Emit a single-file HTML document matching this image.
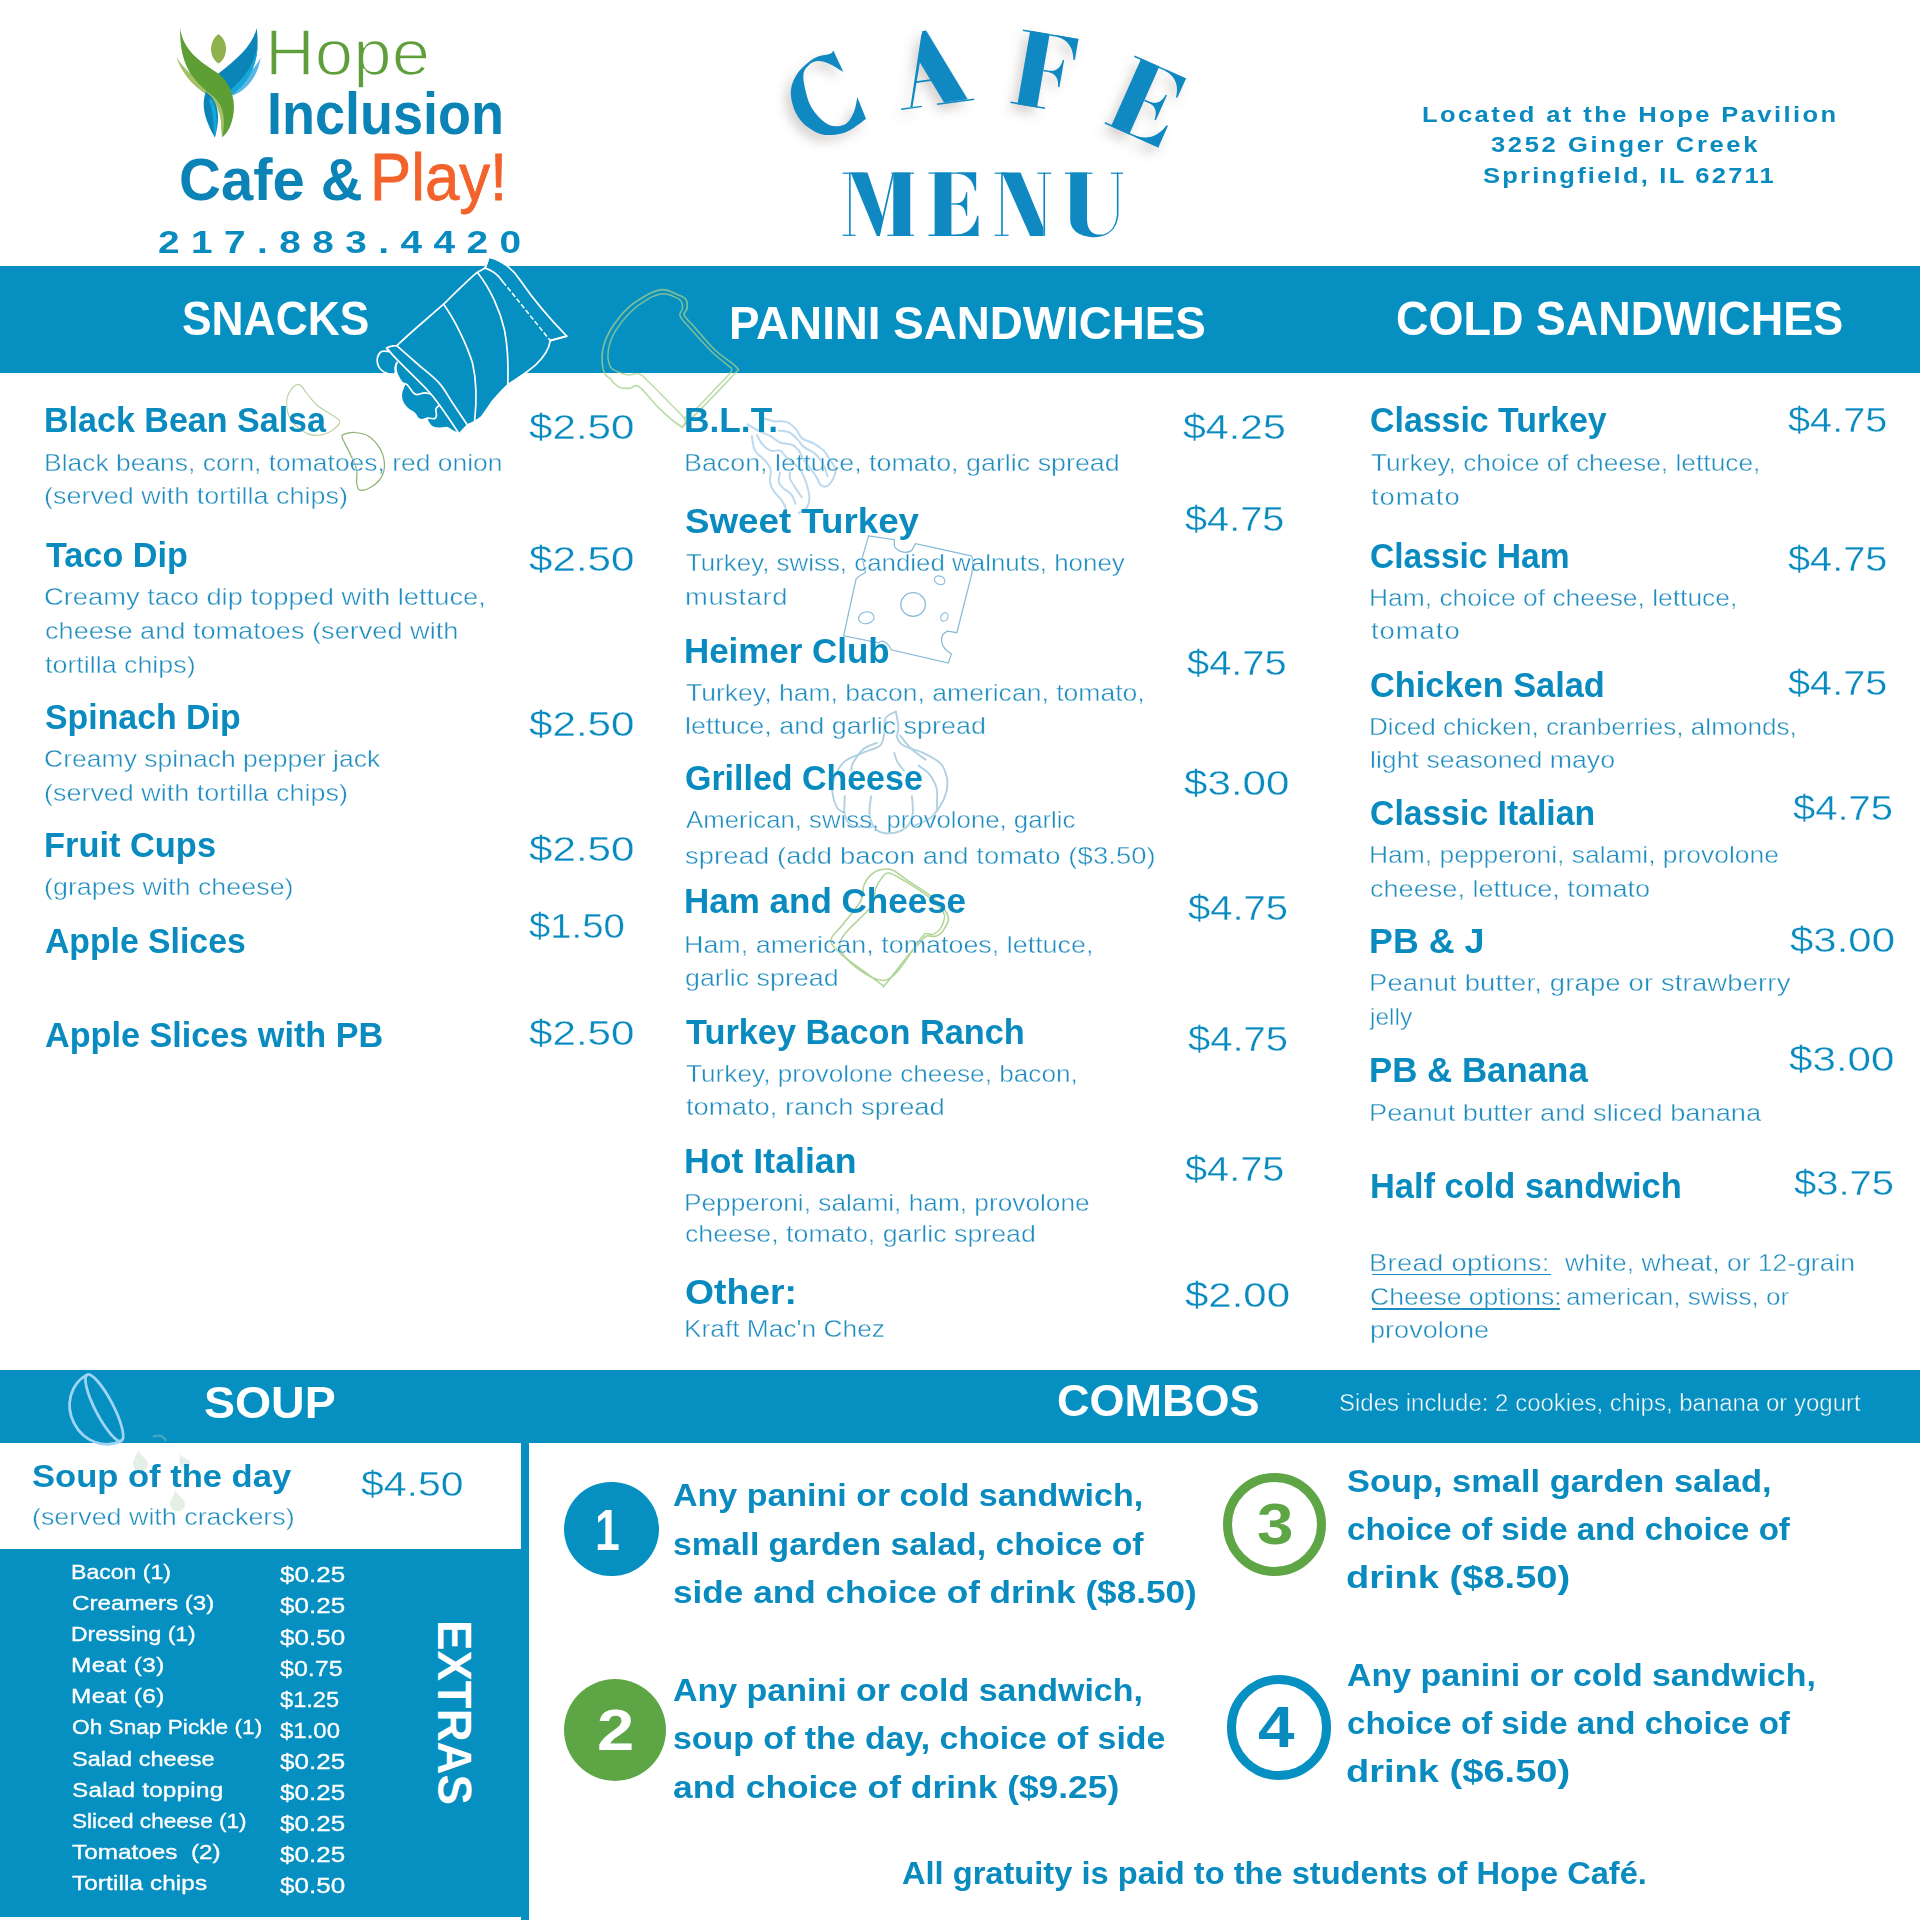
<!DOCTYPE html>
<html lang="en">
<head>
<meta charset="utf-8">
<title>Hope Inclusion Cafe &amp; Play - Cafe Menu</title>
<style>
html,body{margin:0;padding:0;background:#fff;}
body{width:1920px;height:1920px;position:relative;overflow:hidden;font-family:"Liberation Sans",sans-serif;}
.t{position:absolute;white-space:nowrap;line-height:1;transform-origin:0 50%;}
.ul{position:absolute;height:1.6px;}
.blk{position:absolute;background:#068fc1;}
.wht{position:absolute;background:#fff;}
svg{position:absolute;left:0;top:0;overflow:visible;}
</style>
</head>
<body>
<!-- blue bands -->
<div class="blk" style="left:0;top:266px;width:1920px;height:107px;"></div>
<div class="blk" style="left:0;top:1370px;width:1920px;height:73px;"></div>
<div class="blk" style="left:0;top:1443px;width:529px;height:477px;"></div>
<div class="wht" style="left:0;top:1443px;width:521px;height:106px;"></div>
<div class="wht" style="left:0;top:1917px;width:521px;height:3px;"></div>
<!-- combo number badges -->
<div style="position:absolute;left:564px;top:1481.9px;width:94.6px;height:94.6px;border-radius:50%;background:#068fc1;"></div>
<div style="position:absolute;left:563.8px;top:1678.5px;width:102.4px;height:102.4px;border-radius:50%;background:#5ea645;"></div>
<div style="position:absolute;left:1223.4px;top:1473.2px;width:102.8px;height:102.8px;border-radius:50%;box-sizing:border-box;border:9.6px solid #5ea645;"></div>
<div style="position:absolute;left:1226.8px;top:1675.4px;width:104.7px;height:104.7px;border-radius:50%;box-sizing:border-box;border:9.6px solid #068fc1;"></div>
<svg width="1920" height="1920" viewBox="0 0 1920 1920">
<path d="M663.3,289.6 C668.1,289.6 672.9,292.6 676.7,294.2 C680.4,295.8 684.1,296.8 685.8,299.2 C687.6,301.5 687.4,305.7 687.1,308.3 C686.8,311.0 683.0,311.9 684.2,315.0 C685.3,318.1 689.0,320.8 694.2,326.7 C699.3,332.5 707.9,343.2 715.0,350.0 C722.1,356.8 733.6,363.3 736.7,367.5 C739.7,371.7 739.7,367.6 733.3,375.0 C726.9,382.4 706.5,403.3 698.3,411.7 C690.1,420.0 687.2,422.6 684.2,425.0 C681.1,427.4 684.2,428.6 680.0,425.8 C675.8,423.1 666.0,414.9 659.2,408.3 C652.4,401.8 644.0,390.0 639.2,386.7 C634.3,383.3 633.2,388.2 630.0,388.3 C626.8,388.5 622.8,388.5 620.0,387.5 C617.2,386.5 614.9,383.9 613.3,382.5 C611.8,381.1 612.2,380.6 610.8,379.2 C609.4,377.8 606.5,376.9 605.0,374.2 C603.5,371.4 602.4,367.1 602.1,362.5 C601.8,357.9 601.9,352.2 603.3,346.7 C604.8,341.1 606.8,335.6 610.8,329.2 C614.9,322.8 621.2,314.2 627.5,308.3 C633.8,302.5 642.4,297.3 648.3,294.2 C654.3,291.0 658.6,289.6 663.3,289.6 Z" fill="none" stroke="#a4cf8c" stroke-opacity="0.75" stroke-width="1.7"/>
<path d="M607.9,358.3 C608.1,356.5 607.6,351.9 608.8,347.5 C609.9,343.1 611.5,337.5 615.0,331.7 C618.5,325.8 624.4,318.0 630.0,312.5 C635.6,307.0 642.8,301.9 648.3,298.8 C653.9,295.6 658.9,294.0 663.3,293.8 C667.8,293.5 672.0,295.8 675.0,297.1 C678.0,298.3 680.0,299.4 681.2,301.2 C682.5,303.1 682.7,305.9 682.5,308.3 C682.3,310.8 678.8,312.5 680.0,315.8 C681.2,319.2 684.7,322.4 690.0,328.3 C695.3,334.3 704.7,345.0 711.7,351.7 C718.6,358.3 728.3,365.6 731.7,368.3" fill="none" stroke="#a4cf8c" stroke-opacity="0.75" stroke-width="1.5"/>
<path d="M607.9,358.3 C608.4,359.9 609.2,365.3 610.8,367.5 C612.4,369.7 614.6,370.4 617.5,371.7 C620.4,372.9 624.7,374.7 628.3,375.0 C631.9,375.3 635.6,372.4 639.2,373.8 C642.8,375.1 645.7,379.2 650.0,383.3 C654.3,387.4 659.3,392.5 665.0,398.3 C670.7,404.2 681.0,413.9 684.2,418.3 C687.4,422.8 684.2,423.9 684.2,425.0" fill="none" stroke="#a4cf8c" stroke-opacity="0.75" stroke-width="1.5"/>
<path d="M731.7,368.3 C731.4,369.2 733.1,369.6 730.0,373.3 C726.9,377.1 718.9,385.0 713.3,390.8 C707.8,396.7 701.5,403.8 696.7,408.3 C691.8,412.9 686.2,416.7 684.2,418.3" fill="none" stroke="#a4cf8c" stroke-opacity="0.75" stroke-width="1.5"/>
<path d="M297.1,384.5 C295.2,385.2 292.1,387.6 290.3,390.6 C288.6,393.5 286.6,397.3 286.6,402.1 C286.6,406.8 287.2,413.9 290.3,419.0 C293.4,424.1 300.7,429.8 305.2,432.5 C309.7,435.3 313.1,435.5 317.4,435.3 C321.7,435.0 327.2,433.5 330.9,431.2 C334.7,428.9 339.7,424.5 339.7,421.7 C339.7,418.9 334.7,417.0 330.9,414.3 C327.2,411.6 321.3,408.9 317.4,405.5 C313.4,402.1 309.8,397.1 307.2,394.0 C304.6,390.8 303.5,388.1 301.8,386.5 C300.1,384.9 299.0,383.8 297.1,384.5 Z" fill="none" stroke="#b9d3a0" stroke-width="1.1"/>
<path d="M343.1,434.6 C345.2,433.8 350.5,432.3 354.6,432.5 C358.8,432.8 364.0,433.3 368.2,435.9 C372.3,438.5 377.0,443.6 379.7,448.1 C382.4,452.6 384.1,458.3 384.4,463.0 C384.8,467.8 383.9,472.6 381.7,476.6 C379.6,480.5 375.2,484.5 371.6,486.7 C367.9,489.0 362.5,490.7 360.0,490.1 C357.6,489.5 357.2,486.7 356.7,483.3 C356.1,479.9 357.6,474.3 356.7,469.8 C355.8,465.3 353.3,460.8 351.2,456.2 C349.2,451.7 346.0,445.9 344.5,442.7 C343.0,439.5 342.3,438.6 342.1,437.3 C341.9,435.9 341.0,435.4 343.1,434.6 Z" fill="none" stroke="#8fb273" stroke-width="1.2"/>
<path d="M762.5,418.1 C764.4,418.6 769.8,420.6 773.8,421.2 C777.7,421.9 782.6,420.6 786.2,421.9 C789.9,423.1 793.0,426.0 795.6,428.8 C798.2,431.5 798.8,435.6 801.9,438.1 C805.0,440.6 810.7,441.7 814.4,443.8 C818.0,445.8 821.1,447.9 823.8,450.6 C826.4,453.3 828.0,456.9 830.0,460.0 C832.0,463.1 835.1,466.2 835.6,469.4 C836.1,472.5 834.6,475.9 833.1,478.8 C831.7,481.6 829.0,485.2 826.9,486.2 C824.8,487.3 822.2,486.2 820.6,485.0 C819.1,483.8 818.0,479.8 817.5,478.8" fill="none" stroke="#bcd9ee" stroke-width="2" stroke-linecap="round"/>
<path d="M747.5,424.4 C749.3,425.4 754.3,428.6 758.1,430.6 C762.0,432.6 767.0,434.3 770.6,436.2 C774.3,438.2 776.4,441.0 780.0,442.5 C783.6,444.0 789.4,443.6 792.5,445.0 C795.6,446.4 796.9,448.1 798.8,450.6 C800.6,453.1 801.7,456.9 803.8,460.0 C805.8,463.1 809.0,466.2 811.2,469.4 C813.5,472.5 816.5,477.2 817.5,478.8" fill="none" stroke="#bcd9ee" stroke-width="2" stroke-linecap="round"/>
<path d="M778.8,430.6 C780.5,430.9 786.2,431.0 789.4,432.5 C792.5,434.0 795.1,437.0 797.5,439.4 C799.9,441.8 800.9,444.6 803.8,446.9 C806.6,449.2 811.6,450.9 814.4,453.1 C817.2,455.3 818.9,457.4 820.6,460.0 C822.4,462.6 823.9,466.0 825.0,468.8 C826.1,471.5 827.1,475.0 827.5,476.2" fill="none" stroke="#bcd9ee" stroke-width="2" stroke-linecap="round"/>
<path d="M751.9,436.2 C752.4,438.6 752.9,446.7 755.0,450.6 C757.1,454.6 761.8,456.9 764.4,460.0 C767.0,463.1 769.7,465.7 770.6,469.4 C771.6,473.0 769.5,478.2 770.0,481.9 C770.5,485.5 771.8,488.1 773.8,491.2 C775.7,494.4 779.8,497.5 781.9,500.6 C784.0,503.8 785.5,507.4 786.2,510.0 C787.0,512.6 786.2,515.2 786.2,516.2" fill="none" stroke="#bcd9ee" stroke-width="2" stroke-linecap="round"/>
<path d="M756.9,435.0 C757.8,436.6 760.2,441.8 762.5,444.4 C764.8,447.0 767.7,449.6 770.6,450.6 C773.5,451.7 777.4,449.6 780.0,450.6 C782.6,451.7 783.6,454.5 786.2,456.9 C788.9,459.3 793.0,462.4 795.6,465.0 C798.2,467.6 800.0,469.2 801.9,472.5 C803.8,475.8 805.6,480.8 806.9,485.0 C808.1,489.2 809.4,493.8 809.4,497.5 C809.4,501.2 808.6,504.9 806.9,507.5 C805.1,510.1 800.1,512.2 798.8,513.1" fill="none" stroke="#bcd9ee" stroke-width="2" stroke-linecap="round"/>
<path d="M780.0,472.5 C779.8,474.1 778.2,479.3 778.8,481.9 C779.3,484.5 781.0,486.0 783.1,488.1 C785.2,490.2 789.2,491.8 791.2,494.4 C793.3,497.0 794.9,502.2 795.6,503.8" fill="none" stroke="#bcd9ee" stroke-width="2" stroke-linecap="round"/>
<path d="M790.0,472.5 C790.0,473.5 789.1,476.1 790.0,478.8 C790.9,481.4 793.6,485.0 795.6,488.1 C797.6,491.2 800.8,495.9 801.9,497.5" fill="none" stroke="#bcd9ee" stroke-width="2" stroke-linecap="round"/>
<path d="M868.6,535.8 L894.4,539.7 L894.4,546.7 C899.1,552.2 905.3,553.8 911.6,550.6 L915.5,543.6 L971.1,555.9 Q974.1,556.9 971.7,574.1 L956.9,632.7 L947.5,631.1 C938.2,635.3 939.8,647.5 951.4,653.8 L948.3,663.1 L891.2,649.8 C888.9,643.6 881.9,638.5 878.8,642.8 L843.6,635.8 L856.1,578.8 C859.2,575.6 865.5,572.5 865.5,572.5 L862.3,557.7 Z" fill="none" stroke="#86bad8" stroke-width="1.2"/>
<ellipse cx="913.1" cy="604.5" rx="12.3" ry="11.8" fill="none" stroke="#86bad8" stroke-width="1.3"/>
<ellipse cx="866.3" cy="617.8" rx="7.8" ry="5.9" fill="none" stroke="#86bad8" stroke-width="1.1" transform="rotate(-10 866.3 617.8)"/>
<ellipse cx="939.7" cy="580.3" rx="5.5" ry="4.2" fill="none" stroke="#86bad8" stroke-width="1.1" transform="rotate(25 939.7 580.3)"/>
<ellipse cx="944.4" cy="617" rx="3.4" ry="4.4" fill="none" stroke="#86bad8" stroke-width="1.1" transform="rotate(25 944.4 617)"/>
<path d="M895.9,711.6 C894.2,712.7 887.6,714.4 885.6,718.1 C883.7,721.9 885.2,729.6 884.2,734.2 C883.2,738.8 883.2,742.8 879.8,745.8 C876.4,748.9 869.7,749.7 863.8,752.4 C857.8,755.1 848.9,757.6 844.1,761.9 C839.2,766.1 836.5,772.8 834.6,777.9 C832.6,783.0 832.0,787.7 832.4,792.5 C832.8,797.4 835.2,804.0 836.8,807.1 C838.4,810.3 841.0,810.8 841.9,811.5" fill="none" stroke="#b0d1e2" stroke-width="1.9" stroke-linecap="round"/>
<path d="M844.8,796.2 C844.8,799.2 843.7,809.5 844.8,814.4 C845.9,819.3 847.0,823.2 851.4,825.4 C855.7,827.5 867.8,827.2 871.1,827.5" fill="none" stroke="#b0d1e2" stroke-width="1.9" stroke-linecap="round"/>
<path d="M871.1,796.2 C870.8,799.2 868.9,808.9 869.6,814.4 C870.3,819.9 872.0,825.8 875.4,829.0 C878.8,832.2 884.9,833.6 890.0,833.4 C895.1,833.1 902.3,830.7 906.1,827.5 C909.8,824.4 911.7,819.6 912.6,814.4 C913.6,809.2 912.0,799.2 911.9,796.2" fill="none" stroke="#b0d1e2" stroke-width="1.9" stroke-linecap="round"/>
<path d="M895.9,711.6 C896.3,714.1 898.2,722.5 898.4,726.9 C898.7,731.3 896.4,734.7 897.3,737.8 C898.2,741.0 899.7,743.4 903.9,745.8 C908.0,748.3 916.0,749.5 922.1,752.4 C928.2,755.3 936.2,759.1 940.4,763.4 C944.5,767.6 945.9,773.1 946.9,777.9 C947.9,782.8 947.4,787.7 946.2,792.5 C945.0,797.4 942.4,802.7 939.6,807.1 C936.8,811.5 933.5,815.7 929.4,818.8 C925.3,821.8 917.3,824.3 914.8,825.4" fill="none" stroke="#b0d1e2" stroke-width="1.9" stroke-linecap="round"/>
<path d="M876.9,742.9 C874.7,743.9 867.8,745.4 863.8,748.8 C859.8,752.2 854.9,759.7 852.8,763.4 C850.8,767.0 851.6,769.4 851.4,770.6" fill="none" stroke="#b0d1e2" stroke-width="1.9" stroke-linecap="round"/>
<path d="M894.4,753.1 C894.9,754.6 895.7,759.0 897.3,761.9 C898.9,764.8 902.8,769.2 903.9,770.6" fill="none" stroke="#b0d1e2" stroke-width="1.9" stroke-linecap="round"/>
<path d="M918.5,765.5 C920.3,767.0 926.4,770.4 929.4,774.3 C932.4,778.2 935.5,782.8 936.7,788.9 C937.9,795.0 936.7,807.1 936.7,810.8" fill="none" stroke="#b0d1e2" stroke-width="1.9" stroke-linecap="round"/>
<path d="M900.2,735.6 C902.1,737.8 906.9,744.8 911.2,748.8 C915.4,752.8 923.3,757.9 925.8,759.7" fill="none" stroke="#b0d1e2" stroke-width="1.9" stroke-linecap="round"/>
<path d="M882.0,869.5 C885.6,868.8 888.7,868.4 892.9,870.2 C897.2,872.0 901.4,876.3 907.5,880.4 C913.6,884.6 923.1,889.9 929.4,895.0 C935.7,900.1 942.3,906.9 945.5,911.1 C948.6,915.2 948.6,916.8 948.4,919.8 C948.1,922.8 945.5,926.9 944.0,929.3 C942.5,931.7 941.3,933.2 939.6,934.4 C937.9,935.6 936.0,936.3 933.8,936.6 C931.6,936.8 928.7,935.0 926.5,935.9 C924.3,936.7 923.8,938.3 920.7,941.7 C917.5,945.1 913.4,949.2 907.5,956.3 C901.7,963.3 889.9,979.3 885.6,984.0 C881.4,988.7 885.0,986.4 882.0,984.7 C879.0,983.0 874.1,978.8 867.4,973.8 C860.7,968.8 848.0,960.4 841.9,954.8 C835.8,949.2 830.9,945.1 830.9,940.2 C830.9,935.4 836.9,932.2 841.9,925.6 C846.9,919.1 857.2,907.5 860.8,900.8 C864.5,894.2 862.1,889.9 863.8,885.5 C865.5,881.2 868.0,877.3 871.1,874.6 C874.1,871.9 878.4,870.2 882.0,869.5 Z" fill="none" stroke="#b2d496" stroke-width="1.6"/>
<path d="M888.6,873.1 C892.8,873.5 899.5,878.0 906.1,881.9 C912.6,885.8 921.8,891.4 928.0,896.5 C934.2,901.6 940.6,908.6 943.3,912.5 C945.9,916.4 944.5,917.1 944.0,919.8 C943.5,922.5 942.2,926.1 940.4,928.6 C938.5,931.0 935.5,933.5 933.1,934.4 C930.6,935.2 928.0,932.8 925.8,933.7 C923.6,934.5 926.9,931.7 919.9,939.5 C913.0,947.3 897.6,979.1 884.2,980.4 C870.8,981.6 841.9,959.1 839.7,946.8 C837.5,934.5 865.1,916.3 871.1,906.7 C877.0,897.1 873.9,893.7 875.4,889.2 C877.0,884.7 878.4,882.4 880.5,879.7 C882.7,877.0 884.3,872.8 888.6,873.1 Z" fill="none" stroke="#b2d496" stroke-width="1.5"/>
<g transform="translate(104.3,1407.8) rotate(62.6)" fill="none" stroke="#9fd4f5" stroke-width="2.8"><ellipse rx="37.2" ry="9"/><path d="M-37.2,0 A37.2,34 0 0 0 37.2,0"/></g>
<path d="M138.1,1449.4 C139.1,1454.4 148.0,1459.5 148.0,1464.0 A7.5,7.5 0 1 1 133.0,1464.0 C133.0,1459.5 137.1,1454.4 138.1,1449.4 Z" fill="rgba(205,225,210,0.55)"/>
<path d="M180.5,1453.5 C181.5,1458.5 190.5,1459.2 190.5,1462.5 A5.5,5.5 0 1 1 179.5,1462.5 C179.5,1459.2 179.5,1458.5 180.5,1453.5 Z" fill="rgba(205,225,215,0.5)"/>
<path d="M175.6,1489.7 C176.6,1494.7 185.0,1499.5 185.0,1504.0 A7.5,7.5 0 1 1 170.0,1504.0 C170.0,1499.5 174.6,1494.7 175.6,1489.7 Z" fill="rgba(205,225,210,0.55)"/>
<path d="M153,1437 C158,1434 164,1436 166,1441" fill="none" stroke="rgba(120,190,190,0.5)" stroke-width="2.5"/>
<path d="M488.9,257.2 C 500,260 512,268 520,280 C 533,299 548,317 566.7,336.1 L550.3,340.6 C 549,349 543,358 535.7,364.8 C 527,372.5 516,379 507.8,384.8 C 501,391 496,397 491.8,402 C 488,408 485,412 481.5,416.9 C 477,421 472,423 467.4,425 L459.4,433.5 C458.3,433.2 455.1,432.2 453.1,431.3 C451.1,430.3 449.7,428.3 447.3,427.8 C445.0,427.3 441.3,428.6 438.8,428.4 C436.2,428.2 433.8,427.9 431.9,426.7 C430.0,425.4 428.1,421.9 427.3,420.9 L427.3,418.1 C426.3,418.4 423.2,419.8 421.6,419.8 C419.9,419.8 418.7,419.1 417.6,418.1 C416.4,417.0 416.4,415.1 414.7,413.5 C413.0,411.9 409.3,410.4 407.2,408.3 C405.1,406.2 403.0,403.6 402.1,400.9 C401.1,398.2 401.1,395.0 401.5,392.3 C401.9,389.6 403.9,386.1 404.4,384.8 C403.8,384.5 402.1,384.0 400.9,382.6 C399.8,381.1 398.4,377.9 397.5,376.3 C396.6,374.6 395.8,373.1 395.5,372.5 C395.1,372.8 394.8,374.3 392.9,374.2 C391.1,374.2 386.7,373.5 384.3,372.2 C381.9,371.0 379.7,368.9 378.6,366.5 C377.4,364.1 377.0,360.4 377.4,357.9 C377.9,355.4 379.5,352.7 381.5,351.6 C383.4,350.6 387.7,351.6 388.9,351.6 L386.6,348.2 C388,346.8 391,345.9 396.9,345.6 C 412,331 428,318 443.6,304.2 C 455,293 466,282 476.8,272.7 L485.1,268.1 Z" fill="#068fc1" stroke="#fff" stroke-width="1.7" stroke-linejoin="round"/>
<path d="M443.6,304.2 C 455,320 467,345 472.5,363 C 476,378 477.5,395 474.6,421.5" fill="none" stroke="#fff" stroke-width="1.7" stroke-linecap="round" stroke-linejoin="round"/>
<path d="M477.6,272.7 C 490,288 500,310 504.5,330 C 507.5,345 508.5,365 507.8,384.8" fill="none" stroke="#fff" stroke-width="1.7" stroke-linecap="round" stroke-linejoin="round"/>
<path d="M485.1,268.1 C 492,270 499,276 503,282" fill="none" stroke="#fff" stroke-width="1.7" stroke-linecap="round" stroke-linejoin="round"/>
<path d="M550.3,340.6 L566.7,336.1" fill="none" stroke="#fff" stroke-width="1.7" stroke-linecap="round" stroke-linejoin="round"/>
<path d="M485.1,268.1 L488.9,257.2" fill="none" stroke="#fff" stroke-width="1.7" stroke-linecap="round" stroke-linejoin="round"/>
<path d="M387.2,348.5 C388.9,350.4 390.8,353.3 397.5,360.2 C404.2,367.1 420.1,382.3 427.3,390.0 C434.5,397.7 435.3,399.5 440.5,406.6 C445.6,413.7 455.3,428.1 458.2,432.4" fill="none" stroke="#fff" stroke-width="1.7" stroke-linecap="round" stroke-linejoin="round"/>
<path d="M396.9,345.9 C400.1,348.7 408.9,356.4 415.8,362.5 C422.8,368.6 432.5,375.7 438.8,382.6 C445.0,389.4 448.3,396.7 453.1,403.8 C457.8,410.8 465.0,421.4 467.4,424.9" fill="none" stroke="#fff" stroke-width="1.7" stroke-linecap="round" stroke-linejoin="round"/>
<path d="M396.9,362.5 C396.7,363.5 395.7,366.1 395.8,368.2 C395.9,370.3 396.4,372.7 397.5,375.1 C398.6,377.5 400.5,380.9 402.1,382.6 C403.7,384.2 405.4,383.2 407.2,384.8 C409.1,386.5 411.3,390.7 413.0,392.3 C414.6,393.9 415.1,394.5 417.0,394.6 C418.9,394.7 422.1,393.0 424.4,392.9 C426.7,392.8 429.7,393.8 430.7,394.0" fill="none" stroke="#fff" stroke-width="1.7" stroke-linecap="round" stroke-linejoin="round"/>
<path d="M439.3,405.5 C438.8,406.0 436.4,407.3 435.9,408.9 C435.4,410.5 436.6,413.6 436.5,415.2 C436.3,416.8 436.2,418.2 434.7,418.6 C433.3,419.1 429.0,418.2 427.9,418.1" fill="none" stroke="#fff" stroke-width="1.7" stroke-linecap="round" stroke-linejoin="round"/>
<path d="M395.5,372.5 C395.4,371.6 395.0,368.8 395.2,367.1 C395.4,365.4 396.6,363.3 396.9,362.5" fill="none" stroke="#fff" stroke-width="1.7" stroke-linecap="round" stroke-linejoin="round"/>
<path d="M503,282 C 518,300 535,322 550.3,340.6" fill="none" stroke="#fff" stroke-width="1.5" stroke-dasharray="5 2.2"/>
</svg>
<svg width="1920" height="270" viewBox="0 0 1920 270">
 <!-- light green back swoosh -->
 <path d="M176.3,56.5 C181,72 192,85 205,93.5 C215,101 222,113 221,127 L222,137.4 C227,122 226,104 214,92 C200,80 185,72 176.3,56.5 Z" fill="#a5c067"/>
 <!-- blue leg -->
 <path d="M206,91.5 C201.5,103 203,117 214.9,137.6 C219,122 220,110 212.5,98 Z" fill="#0b84b8"/>
 <path d="M211,98 C217,108 218.5,120 214.9,137.6 C213,126 214,112 209,101 Z" fill="#16a6d8"/>
 <!-- light blue outer wing -->
 <path d="M260.6,57.2 C258.5,76 246,91 232.8,95.4 L226,86 C243,80 255,70 260.6,57.2 Z" fill="#5ab6e4"/>
 <!-- blue wing -->
 <path d="M256.7,28.2 C252.5,45 238,58.5 218.4,73.4 L232.2,94.5 C250,81 261,60 256.7,28.2 Z" fill="#0b84b8"/>
 <path d="M257.6,45 C255.5,62 245,78 229.5,90.5 L232.2,94.5 C248,83 257.5,66 257.6,45 Z" fill="#16a6d8"/>
 <!-- main green -->
 <path d="M180.1,28 C183,50 200,62 218.4,73.4 C232.5,85 238,105 231,124 C229,130 226,134 222,137.6 C226,121 224,106 214,97 C196,82 179.5,70 180.1,28 Z" fill="#5e9f35"/>
 <!-- head -->
 <path d="M218.6,34 C228.5,41 228.5,57 218.6,63.6 C208.5,57 208.5,41 218.6,34 Z" fill="#8fb24e"/>
</svg>

<div style="position:absolute;left:0;top:0;width:1920px;height:270px;filter:drop-shadow(-5px 6px 6px rgba(60,40,30,0.22));">
<svg width="1920" height="270" viewBox="0 0 1920 270">
<g transform="translate(823.5,97.5) rotate(-22) scale(0.7875,0.7547) translate(-40.00,-50.00)" fill="#1089c3"><path d="M74,-3 L75.5,28.3 C75.2,27.9 76.0,28.8 73.9,26.0 C71.8,23.2 67.0,15.6 63.1,11.7 C59.2,7.8 54.5,3.8 50.3,2.3 C46.1,0.8 41.8,1.6 38.0,3.0 C34.2,4.4 30.4,6.2 27.8,10.7 C25.2,15.2 23.6,22.7 22.5,30.0 C21.4,37.3 20.0,46.3 20.9,54.3 C21.8,62.3 24.9,71.9 28.0,78.0 C31.1,84.1 34.9,88.3 39.4,90.8 C43.9,93.3 50.0,94.4 55.0,93.0 C60.0,91.6 65.2,86.7 69.4,82.3 C73.6,77.9 78.2,69.2 79.9,66.6 L79.9,97.3 C76.9,98.1 68.2,101.0 62.0,102.0 C55.8,103.0 49.8,104.3 42.8,103.0 C35.8,101.7 26.5,99.2 20.0,94.0 C13.5,88.8 7.3,79.7 4.0,72.0 C0.7,64.3 -0.2,55.8 0.0,48.0 C0.2,40.2 1.7,31.7 5.0,25.0 C8.3,18.3 14.2,12.3 20.0,8.0 C25.8,3.7 34.3,0.8 40.0,-1.0 C45.7,-2.8 50.0,-3.0 54.0,-3.0 C58.0,-3.0 61.3,-1.4 64.0,-1.0 C66.7,-0.6 68.3,-0.3 70.0,-0.6 C71.7,-0.9 73.3,-2.6 74.0,-3.0 Z"/></g>
<g transform="translate(932.7,67.6) rotate(-7.8) scale(0.7235,0.7465) translate(-51.00,-49.50)" fill="#1089c3"><path d="M44,-1 L49,-1 L93,98 L60,98 L32.5,36 Z"/><path d="M41.2,5 L44,-1 L46.2,3 L16,98 L13,98 Z"/><path d="M23,64.5 H53 V67 H23 Z"/><path d="M0,98 H29 V100 H0 Z"/><path d="M50,98 H102 V100 H50 Z"/></g>
<g transform="translate(1044.4,71) rotate(9.8) scale(0.7477,0.7450) translate(-37.65,-50.00)" fill="#1089c3"><path d="M0,0 H75.3 V2 H0 Z"/><path d="M9.7,0 H36.2 V100 H9.7 Z"/><path d="M0,98 H47 V100 H0 Z"/><path d="M75.3,0 L75.3,28.6 L73.3,28.6 C71,14 62,3 46,2 L46,0 Z"/><path d="M36.2,48.5 H56 V50.6 H36.2 Z"/><path d="M61.2,31.1 L61.2,68.1 L59.3,68.1 C58.5,58 54,51.5 45,50.6 L45,48.5 C54,47.6 58.5,41 59.3,31.1 Z"/></g>
<g transform="translate(1146.5,101.5) rotate(24) scale(0.7468,0.7420) translate(-39.50,-50.00)" fill="#1089c3"><path d="M0,0 H75.3 V2 H0 Z"/><path d="M9.7,0 H36.2 V100 H9.7 Z"/><path d="M0,98 H79 V100 H0 Z"/><path d="M75.3,0 L75.3,28.6 L73.3,28.6 C71,14 62,3 46,2 L46,0 Z"/><path d="M36.2,48.5 H56 V50.6 H36.2 Z"/><path d="M61.2,31.1 L61.2,68.1 L59.3,68.1 C58.5,58 54,51.5 45,50.6 L45,48.5 C54,47.6 58.5,41 59.3,31.1 Z"/><path d="M79,100 L79,68.1 L77,68.1 C73,86 62,97 44,98 L44,100 Z"/></g>
</svg></div>
<svg width="1920" height="270" viewBox="0 0 1920 270">
<g transform="translate(842.6,172.6) scale(0.6329)" fill="#1089c3"><path d="M0,0 H35 V2 H0 Z"/><path d="M10.2,0 H12.8 V100 H10.2 Z"/><path d="M0,98 H20.4 V100 H0 Z"/><path d="M12.8,0 L39.3,0 L63.2,70 L58.6,100 L54,100 Z"/><path d="M78.4,2 L81.2,2 L58.8,100 L56,100 Z"/><path d="M80.1,0 H106.9 V100 H80.1 Z"/><path d="M77,0 H112.8 V2 H77 Z"/><path d="M70.7,98 H112.8 V100 H70.7 Z"/></g>
<g transform="translate(928.5,172.6) scale(0.6329)" fill="#1089c3"><path d="M0,0 H75.3 V2 H0 Z"/><path d="M9.7,0 H36.2 V100 H9.7 Z"/><path d="M0,98 H79 V100 H0 Z"/><path d="M75.3,0 L75.3,28.6 L73.3,28.6 C71,14 62,3 46,2 L46,0 Z"/><path d="M36.2,48.5 H56 V50.6 H36.2 Z"/><path d="M61.2,31.1 L61.2,68.1 L59.3,68.1 C58.5,58 54,51.5 45,50.6 L45,48.5 C54,47.6 58.5,41 59.3,31.1 Z"/><path d="M79,100 L79,68.1 L77,68.1 C73,86 62,97 44,98 L44,100 Z"/></g>
<g transform="translate(994.7,172.6) scale(0.6329)" fill="#1089c3"><path d="M0,0 H20 V2 H0 Z"/><path d="M10.2,0 H12.8 V100 H10.2 Z"/><path d="M0,98 H22 V100 H0 Z"/><path d="M11.5,0 L40.8,0 L77,87 L77,100 L56,100 Z"/><path d="M77,0 H79.6 V100 H77 Z"/><path d="M67.6,0 H89.3 V2 H67.6 Z"/></g>
<g transform="translate(1064.9,172.6) scale(0.6329)" fill="#1089c3"><path d="M0,0 H43.4 V2 H0 Z"/><path d="M72.7,0 H91.8 V2 H72.7 Z"/><path d="M8.4,0 L34.9,0 L34.9,72 C34.9,90 42,98 56,98 C68,98 80,88 82.1,66.8 L82.1,0 L84.7,0 L84.7,66 C82.5,92 66,102 48,102 C25,102 8.4,92 8.4,74 Z"/></g>
</svg>
<div class="t" style="left:182.4px;top:294.8px;font-size:47.2px;color:#ffffff;transform:scaleX(0.9398);font-weight:bold;">SNACKS</div>
<div class="t" style="left:728.7px;top:300.6px;font-size:45.5px;color:#ffffff;transform:scaleX(1.0049);font-weight:bold;">PANINI SANDWICHES</div>
<div class="t" style="left:1395.6px;top:295.1px;font-size:47.5px;color:#ffffff;transform:scaleX(0.9466);font-weight:bold;">COLD SANDWICHES</div>
<div class="t" style="left:204.0px;top:1381.9px;font-size:43.5px;color:#ffffff;transform:scaleX(1.0680);font-weight:bold;">SOUP</div>
<div class="t" style="left:1056.6px;top:1380.3px;font-size:43.5px;color:#ffffff;transform:scaleX(1.0351);font-weight:bold;">COMBOS</div>
<div class="t" style="left:1339.0px;top:1392.2px;font-size:23px;color:#ffffff;transform:scaleX(1.0436);-webkit-text-stroke:0.45px #068fc1;">Sides include: 2 cookies, chips, banana or yogurt</div>
<div class="t" style="left:43.8px;top:402.7px;font-size:34.5px;color:#098bc0;transform:scaleX(0.9868);font-weight:bold;">Black Bean Salsa</div>
<div class="t" style="left:529.1px;top:409.3px;font-size:35.3px;color:#098bc0;transform:scaleX(1.1942);-webkit-text-stroke:0.35px #fff;">$2.50</div>
<div class="t" style="left:43.5px;top:451.0px;font-size:23.8px;color:#1f8dbf;transform:scaleX(1.1107);-webkit-text-stroke:0.4px #fff;">Black beans, corn, tomatoes, red onion</div>
<div class="t" style="left:44.0px;top:484.0px;font-size:23.8px;color:#1f8dbf;transform:scaleX(1.1321);-webkit-text-stroke:0.4px #fff;">(served with tortilla chips)</div>
<div class="t" style="left:45.5px;top:537.7px;font-size:34.5px;color:#098bc0;transform:scaleX(0.9912);font-weight:bold;">Taco Dip</div>
<div class="t" style="left:529.1px;top:541.3px;font-size:35.3px;color:#098bc0;transform:scaleX(1.1942);-webkit-text-stroke:0.35px #fff;">$2.50</div>
<div class="t" style="left:44.3px;top:585.0px;font-size:23.8px;color:#1f8dbf;transform:scaleX(1.1478);-webkit-text-stroke:0.4px #fff;">Creamy taco dip topped with lettuce,</div>
<div class="t" style="left:44.6px;top:619.0px;font-size:23.8px;color:#1f8dbf;transform:scaleX(1.1405);-webkit-text-stroke:0.4px #fff;">cheese and tomatoes (served with</div>
<div class="t" style="left:45.4px;top:652.7px;font-size:23.8px;color:#1f8dbf;transform:scaleX(1.1276);-webkit-text-stroke:0.4px #fff;">tortilla chips)</div>
<div class="t" style="left:45.0px;top:700.0px;font-size:34.5px;color:#098bc0;transform:scaleX(0.9812);font-weight:bold;">Spinach Dip</div>
<div class="t" style="left:529.1px;top:706.3px;font-size:35.3px;color:#098bc0;transform:scaleX(1.1942);-webkit-text-stroke:0.35px #fff;">$2.50</div>
<div class="t" style="left:44.3px;top:746.7px;font-size:23.8px;color:#1f8dbf;transform:scaleX(1.1152);-webkit-text-stroke:0.4px #fff;">Creamy spinach pepper jack</div>
<div class="t" style="left:44.0px;top:780.7px;font-size:23.8px;color:#1f8dbf;transform:scaleX(1.1321);-webkit-text-stroke:0.4px #fff;">(served with tortilla chips)</div>
<div class="t" style="left:43.8px;top:828.3px;font-size:34.5px;color:#098bc0;transform:scaleX(0.9973);font-weight:bold;">Fruit Cups</div>
<div class="t" style="left:529.1px;top:831.0px;font-size:35.3px;color:#098bc0;transform:scaleX(1.1942);-webkit-text-stroke:0.35px #fff;">$2.50</div>
<div class="t" style="left:44.0px;top:875.0px;font-size:23.8px;color:#1f8dbf;transform:scaleX(1.1297);-webkit-text-stroke:0.4px #fff;">(grapes with cheese)</div>
<div class="t" style="left:45.0px;top:923.7px;font-size:34.5px;color:#098bc0;transform:scaleX(0.9781);font-weight:bold;">Apple Slices</div>
<div class="t" style="left:529.2px;top:908.0px;font-size:35.3px;color:#098bc0;transform:scaleX(1.0849);-webkit-text-stroke:0.35px #fff;">$1.50</div>
<div class="t" style="left:45.0px;top:1017.7px;font-size:34.5px;color:#098bc0;transform:scaleX(0.9910);font-weight:bold;">Apple Slices with PB</div>
<div class="t" style="left:529.1px;top:1015.3px;font-size:35.3px;color:#098bc0;transform:scaleX(1.1942);-webkit-text-stroke:0.35px #fff;">$2.50</div>
<div class="t" style="left:684.2px;top:402.7px;font-size:34.5px;color:#098bc0;transform:scaleX(1.0229);font-weight:bold;">B.L.T.</div>
<div class="t" style="left:1183.1px;top:409.3px;font-size:35.3px;color:#098bc0;transform:scaleX(1.1628);-webkit-text-stroke:0.35px #fff;">$4.25</div>
<div class="t" style="left:684.0px;top:451.0px;font-size:23.8px;color:#1f8dbf;transform:scaleX(1.1281);-webkit-text-stroke:0.4px #fff;">Bacon, lettuce, tomato, garlic spread</div>
<div class="t" style="left:685.4px;top:503.7px;font-size:34.5px;color:#098bc0;transform:scaleX(1.0642);font-weight:bold;">Sweet Turkey</div>
<div class="t" style="left:1185.2px;top:501.3px;font-size:35.3px;color:#098bc0;transform:scaleX(1.1244);-webkit-text-stroke:0.35px #fff;">$4.75</div>
<div class="t" style="left:685.7px;top:551.0px;font-size:23.8px;color:#1f8dbf;transform:scaleX(1.0876);-webkit-text-stroke:0.4px #fff;">Turkey, swiss, candied walnuts, honey</div>
<div class="t" style="left:684.5px;top:585.0px;font-size:23.8px;color:#1f8dbf;transform:scaleX(1.1500);letter-spacing:0.53px;-webkit-text-stroke:0.4px #fff;">mustard</div>
<div class="t" style="left:684.2px;top:633.7px;font-size:34.5px;color:#098bc0;transform:scaleX(1.0115);font-weight:bold;">Heimer Club</div>
<div class="t" style="left:1186.5px;top:644.6px;font-size:35.3px;color:#098bc0;transform:scaleX(1.1279);-webkit-text-stroke:0.35px #fff;">$4.75</div>
<div class="t" style="left:685.7px;top:681.0px;font-size:23.8px;color:#1f8dbf;transform:scaleX(1.1150);-webkit-text-stroke:0.4px #fff;">Turkey, ham, bacon, american, tomato,</div>
<div class="t" style="left:684.5px;top:714.0px;font-size:23.8px;color:#1f8dbf;transform:scaleX(1.1317);-webkit-text-stroke:0.4px #fff;">lettuce, and garlic spread</div>
<div class="t" style="left:685.0px;top:761.0px;font-size:34.5px;color:#098bc0;transform:scaleX(0.9841);font-weight:bold;">Grilled Cheese</div>
<div class="t" style="left:1184.1px;top:765.3px;font-size:35.3px;color:#098bc0;transform:scaleX(1.1942);-webkit-text-stroke:0.35px #fff;">$3.00</div>
<div class="t" style="left:686.0px;top:808.3px;font-size:23.8px;color:#1f8dbf;transform:scaleX(1.0825);-webkit-text-stroke:0.4px #fff;">American, swiss, provolone, garlic</div>
<div class="t" style="left:685.4px;top:844.3px;font-size:23.8px;color:#1f8dbf;transform:scaleX(1.1500);letter-spacing:0.09px;-webkit-text-stroke:0.4px #fff;">spread (add bacon and tomato ($3.50)</div>
<div class="t" style="left:684.2px;top:884.3px;font-size:34.5px;color:#098bc0;transform:scaleX(1.0146);font-weight:bold;">Ham and Cheese</div>
<div class="t" style="left:1187.5px;top:890.3px;font-size:35.3px;color:#098bc0;transform:scaleX(1.1326);-webkit-text-stroke:0.35px #fff;">$4.75</div>
<div class="t" style="left:684.0px;top:933.3px;font-size:23.8px;color:#1f8dbf;transform:scaleX(1.1298);-webkit-text-stroke:0.4px #fff;">Ham, american, tomatoes, lettuce,</div>
<div class="t" style="left:685.1px;top:966.0px;font-size:23.8px;color:#1f8dbf;transform:scaleX(1.1272);-webkit-text-stroke:0.4px #fff;">garlic spread</div>
<div class="t" style="left:686.0px;top:1014.7px;font-size:34.5px;color:#098bc0;transform:scaleX(0.9947);font-weight:bold;">Turkey Bacon Ranch</div>
<div class="t" style="left:1187.5px;top:1021.3px;font-size:35.3px;color:#098bc0;transform:scaleX(1.1326);-webkit-text-stroke:0.35px #fff;">$4.75</div>
<div class="t" style="left:685.7px;top:1061.7px;font-size:23.8px;color:#1f8dbf;transform:scaleX(1.1013);-webkit-text-stroke:0.4px #fff;">Turkey, provolone cheese, bacon,</div>
<div class="t" style="left:685.9px;top:1095.0px;font-size:23.8px;color:#1f8dbf;transform:scaleX(1.1500);letter-spacing:0.01px;-webkit-text-stroke:0.4px #fff;">tomato, ranch spread</div>
<div class="t" style="left:684.2px;top:1144.3px;font-size:34.5px;color:#098bc0;transform:scaleX(1.0342);font-weight:bold;">Hot Italian</div>
<div class="t" style="left:1185.2px;top:1151.3px;font-size:35.3px;color:#098bc0;transform:scaleX(1.1244);-webkit-text-stroke:0.35px #fff;">$4.75</div>
<div class="t" style="left:684.0px;top:1191.0px;font-size:23.8px;color:#1f8dbf;transform:scaleX(1.1031);-webkit-text-stroke:0.4px #fff;">Pepperoni, salami, ham, provolone</div>
<div class="t" style="left:685.1px;top:1221.7px;font-size:23.8px;color:#1f8dbf;transform:scaleX(1.1237);-webkit-text-stroke:0.4px #fff;">cheese, tomato, garlic spread</div>
<div class="t" style="left:684.9px;top:1275.0px;font-size:34.5px;color:#098bc0;transform:scaleX(1.0815);font-weight:bold;">Other:</div>
<div class="t" style="left:1185.1px;top:1277.0px;font-size:35.3px;color:#098bc0;transform:scaleX(1.1895);-webkit-text-stroke:0.35px #fff;">$2.00</div>
<div class="t" style="left:684.0px;top:1316.7px;font-size:23.8px;color:#1f8dbf;transform:scaleX(1.1056);-webkit-text-stroke:0.4px #fff;">Kraft Mac'n Chez</div>
<div class="t" style="left:1370.2px;top:402.7px;font-size:34.5px;color:#098bc0;transform:scaleX(0.9822);font-weight:bold;">Classic Turkey</div>
<div class="t" style="left:1787.5px;top:402.0px;font-size:35.3px;color:#098bc0;transform:scaleX(1.1244);-webkit-text-stroke:0.35px #fff;">$4.75</div>
<div class="t" style="left:1370.9px;top:451.0px;font-size:23.8px;color:#1f8dbf;transform:scaleX(1.1068);-webkit-text-stroke:0.4px #fff;">Turkey, choice of cheese, lettuce,</div>
<div class="t" style="left:1371.1px;top:485.0px;font-size:23.8px;color:#1f8dbf;transform:scaleX(1.1500);letter-spacing:0.86px;-webkit-text-stroke:0.4px #fff;">tomato</div>
<div class="t" style="left:1370.2px;top:538.7px;font-size:34.5px;color:#098bc0;transform:scaleX(0.9727);font-weight:bold;">Classic Ham</div>
<div class="t" style="left:1787.5px;top:541.0px;font-size:35.3px;color:#098bc0;transform:scaleX(1.1244);-webkit-text-stroke:0.35px #fff;">$4.75</div>
<div class="t" style="left:1369.2px;top:585.7px;font-size:23.8px;color:#1f8dbf;transform:scaleX(1.1093);-webkit-text-stroke:0.4px #fff;">Ham, choice of cheese, lettuce,</div>
<div class="t" style="left:1371.1px;top:619.3px;font-size:23.8px;color:#1f8dbf;transform:scaleX(1.1500);letter-spacing:0.86px;-webkit-text-stroke:0.4px #fff;">tomato</div>
<div class="t" style="left:1370.2px;top:667.7px;font-size:34.5px;color:#098bc0;transform:scaleX(0.9957);font-weight:bold;">Chicken Salad</div>
<div class="t" style="left:1787.5px;top:665.3px;font-size:35.3px;color:#098bc0;transform:scaleX(1.1244);-webkit-text-stroke:0.35px #fff;">$4.75</div>
<div class="t" style="left:1369.2px;top:715.0px;font-size:23.8px;color:#1f8dbf;transform:scaleX(1.0962);-webkit-text-stroke:0.4px #fff;">Diced chicken, cranberries, almonds,</div>
<div class="t" style="left:1369.7px;top:748.3px;font-size:23.8px;color:#1f8dbf;transform:scaleX(1.1224);-webkit-text-stroke:0.4px #fff;">light seasoned mayo</div>
<div class="t" style="left:1370.2px;top:796.0px;font-size:34.5px;color:#098bc0;transform:scaleX(0.9784);font-weight:bold;">Classic Italian</div>
<div class="t" style="left:1792.5px;top:790.3px;font-size:35.3px;color:#098bc0;transform:scaleX(1.1326);-webkit-text-stroke:0.35px #fff;">$4.75</div>
<div class="t" style="left:1369.2px;top:843.3px;font-size:23.8px;color:#1f8dbf;transform:scaleX(1.1108);-webkit-text-stroke:0.4px #fff;">Ham, pepperoni, salami, provolone</div>
<div class="t" style="left:1370.3px;top:876.7px;font-size:23.8px;color:#1f8dbf;transform:scaleX(1.1388);-webkit-text-stroke:0.4px #fff;">cheese, lettuce, tomato</div>
<div class="t" style="left:1369.4px;top:924.3px;font-size:34.5px;color:#098bc0;transform:scaleX(1.0385);font-weight:bold;">PB &amp; J</div>
<div class="t" style="left:1790.1px;top:922.0px;font-size:35.3px;color:#098bc0;transform:scaleX(1.1895);-webkit-text-stroke:0.35px #fff;">$3.00</div>
<div class="t" style="left:1369.1px;top:970.7px;font-size:23.8px;color:#1f8dbf;transform:scaleX(1.1500);letter-spacing:0.16px;-webkit-text-stroke:0.4px #fff;">Peanut butter, grape or strawberry</div>
<div class="t" style="left:1370.0px;top:1005.0px;font-size:23.8px;color:#1f8dbf;transform:scaleX(1.0307);-webkit-text-stroke:0.4px #fff;">jelly</div>
<div class="t" style="left:1369.4px;top:1053.3px;font-size:34.5px;color:#098bc0;transform:scaleX(1.0098);font-weight:bold;">PB &amp; Banana</div>
<div class="t" style="left:1789.1px;top:1041.0px;font-size:35.3px;color:#098bc0;transform:scaleX(1.1942);-webkit-text-stroke:0.35px #fff;">$3.00</div>
<div class="t" style="left:1369.1px;top:1100.7px;font-size:23.8px;color:#1f8dbf;transform:scaleX(1.1442);-webkit-text-stroke:0.4px #fff;">Peanut butter and sliced banana</div>
<div class="t" style="left:1369.5px;top:1168.5px;font-size:34.5px;color:#098bc0;transform:scaleX(0.9977);font-weight:bold;">Half cold sandwich</div>
<div class="t" style="left:1793.5px;top:1164.9px;font-size:35.3px;color:#098bc0;transform:scaleX(1.1326);-webkit-text-stroke:0.35px #fff;">$3.75</div>
<div class="t" style="left:1369.1px;top:1250.7px;font-size:23.8px;color:#1f8dbf;transform:scaleX(1.1500);letter-spacing:0.26px;-webkit-text-stroke:0.4px #fff;">Bread options: </div>
<div class="ul" style="left:1371.7px;top:1273.9px;width:179.0px;background:#1f8dbf"></div>
<div class="t" style="left:1564.7px;top:1250.7px;font-size:23.8px;color:#1f8dbf;transform:scaleX(1.1130);-webkit-text-stroke:0.4px #fff;">white, wheat, or 12-grain</div>
<div class="t" style="left:1370.0px;top:1285.0px;font-size:23.8px;color:#1f8dbf;transform:scaleX(1.1149);-webkit-text-stroke:0.4px #fff;">Cheese options:</div>
<div class="ul" style="left:1371.7px;top:1308.2px;width:188.3px;background:#1f8dbf"></div>
<div class="t" style="left:1565.9px;top:1285.0px;font-size:23.8px;color:#1f8dbf;transform:scaleX(1.0954);-webkit-text-stroke:0.4px #fff;">american, swiss, or</div>
<div class="t" style="left:1369.7px;top:1318.3px;font-size:23.8px;color:#1f8dbf;transform:scaleX(1.1389);-webkit-text-stroke:0.4px #fff;">provolone</div>
<div class="t" style="left:32.1px;top:1460.4px;font-size:32px;color:#098bc0;transform:scaleX(1.0798);font-weight:bold;">Soup of the day</div>
<div class="t" style="left:360.5px;top:1466.1px;font-size:35.3px;color:#098bc0;transform:scaleX(1.1605);-webkit-text-stroke:0.35px #fff;">$4.50</div>
<div class="t" style="left:31.8px;top:1505.3px;font-size:23.8px;color:#1f8dbf;transform:scaleX(1.1285);-webkit-text-stroke:0.4px #fff;">(served with crackers)</div>
<div class="t" style="left:71.1px;top:1561.1px;font-size:21.1px;color:#ffffff;transform:scaleX(1.0932);-webkit-text-stroke:0.35px #fff;">Bacon (1)</div>
<div class="t" style="left:279.9px;top:1564.4px;font-size:22.5px;color:#ffffff;transform:scaleX(1.1562);-webkit-text-stroke:0.3px #fff;">$0.25</div>
<div class="t" style="left:71.9px;top:1592.1px;font-size:21.1px;color:#ffffff;transform:scaleX(1.1457);-webkit-text-stroke:0.35px #fff;">Creamers (3)</div>
<div class="t" style="left:279.9px;top:1595.4px;font-size:22.5px;color:#ffffff;transform:scaleX(1.1562);-webkit-text-stroke:0.3px #fff;">$0.25</div>
<div class="t" style="left:71.1px;top:1623.2px;font-size:21.1px;color:#ffffff;transform:scaleX(1.0852);-webkit-text-stroke:0.35px #fff;">Dressing (1)</div>
<div class="t" style="left:279.9px;top:1626.5px;font-size:22.5px;color:#ffffff;transform:scaleX(1.1562);-webkit-text-stroke:0.3px #fff;">$0.50</div>
<div class="t" style="left:71.0px;top:1654.3px;font-size:21.1px;color:#ffffff;transform:scaleX(1.1500);letter-spacing:0.37px;-webkit-text-stroke:0.35px #fff;">Meat (3)</div>
<div class="t" style="left:279.9px;top:1657.5px;font-size:22.5px;color:#ffffff;transform:scaleX(1.1105);-webkit-text-stroke:0.3px #fff;">$0.75</div>
<div class="t" style="left:71.0px;top:1685.4px;font-size:21.1px;color:#ffffff;transform:scaleX(1.1500);letter-spacing:0.37px;-webkit-text-stroke:0.35px #fff;">Meat (6)</div>
<div class="t" style="left:280.0px;top:1688.6px;font-size:22.5px;color:#ffffff;transform:scaleX(1.0502);-webkit-text-stroke:0.3px #fff;">$1.25</div>
<div class="t" style="left:72.0px;top:1716.4px;font-size:21.1px;color:#ffffff;transform:scaleX(1.0743);-webkit-text-stroke:0.35px #fff;">Oh Snap Pickle (1)</div>
<div class="t" style="left:280.0px;top:1719.6px;font-size:22.5px;color:#ffffff;transform:scaleX(1.0648);-webkit-text-stroke:0.3px #fff;">$1.00</div>
<div class="t" style="left:71.9px;top:1747.5px;font-size:21.1px;color:#ffffff;transform:scaleX(1.1155);-webkit-text-stroke:0.35px #fff;">Salad cheese</div>
<div class="t" style="left:279.9px;top:1750.7px;font-size:22.5px;color:#ffffff;transform:scaleX(1.1562);-webkit-text-stroke:0.3px #fff;">$0.25</div>
<div class="t" style="left:71.9px;top:1778.6px;font-size:21.1px;color:#ffffff;transform:scaleX(1.1500);letter-spacing:0.20px;-webkit-text-stroke:0.35px #fff;">Salad topping</div>
<div class="t" style="left:279.9px;top:1781.7px;font-size:22.5px;color:#ffffff;transform:scaleX(1.1562);-webkit-text-stroke:0.3px #fff;">$0.25</div>
<div class="t" style="left:72.0px;top:1809.6px;font-size:21.1px;color:#ffffff;transform:scaleX(1.0715);-webkit-text-stroke:0.35px #fff;">Sliced cheese (1)</div>
<div class="t" style="left:279.9px;top:1812.8px;font-size:22.5px;color:#ffffff;transform:scaleX(1.1562);-webkit-text-stroke:0.3px #fff;">$0.25</div>
<div class="t" style="left:72.4px;top:1840.7px;font-size:21.1px;color:#ffffff;transform:scaleX(1.1500);letter-spacing:0.02px;-webkit-text-stroke:0.35px #fff;">Tomatoes &nbsp;(2)</div>
<div class="t" style="left:279.9px;top:1843.8px;font-size:22.5px;color:#ffffff;transform:scaleX(1.1562);-webkit-text-stroke:0.3px #fff;">$0.25</div>
<div class="t" style="left:72.4px;top:1871.8px;font-size:21.1px;color:#ffffff;transform:scaleX(1.1500);letter-spacing:0.11px;-webkit-text-stroke:0.35px #fff;">Tortilla chips</div>
<div class="t" style="left:279.9px;top:1874.9px;font-size:22.5px;color:#ffffff;transform:scaleX(1.1562);-webkit-text-stroke:0.3px #fff;">$0.50</div>
<div class="t" style="left:673.1px;top:1480.2px;font-size:31.5px;color:#098bc0;transform:scaleX(1.0788);font-weight:bold;">Any panini or cold sandwich,</div>
<div class="t" style="left:672.6px;top:1528.7px;font-size:31.5px;color:#098bc0;transform:scaleX(1.0708);font-weight:bold;">small garden salad, choice of</div>
<div class="t" style="left:672.5px;top:1576.5px;font-size:31.5px;color:#098bc0;transform:scaleX(1.1166);font-weight:bold;">side and choice of drink ($8.50)</div>
<div class="t" style="left:673.1px;top:1675.4px;font-size:31.5px;color:#098bc0;transform:scaleX(1.0783);font-weight:bold;">Any panini or cold sandwich,</div>
<div class="t" style="left:672.6px;top:1723.1px;font-size:31.5px;color:#098bc0;transform:scaleX(1.0751);font-weight:bold;">soup of the day, choice of side</div>
<div class="t" style="left:672.8px;top:1772.3px;font-size:31.5px;color:#098bc0;transform:scaleX(1.1230);font-weight:bold;">and choice of drink ($9.25)</div>
<div class="t" style="left:1346.7px;top:1465.8px;font-size:31.5px;color:#098bc0;transform:scaleX(1.0923);font-weight:bold;">Soup, small garden salad,</div>
<div class="t" style="left:1346.5px;top:1513.9px;font-size:31.5px;color:#098bc0;transform:scaleX(1.0498);font-weight:bold;">choice of side and choice of</div>
<div class="t" style="left:1346.3px;top:1562.0px;font-size:31.5px;color:#098bc0;transform:scaleX(1.2077);font-weight:bold;">drink ($8.50)</div>
<div class="t" style="left:1347.0px;top:1659.7px;font-size:31.5px;color:#098bc0;transform:scaleX(1.0758);font-weight:bold;">Any panini or cold sandwich,</div>
<div class="t" style="left:1346.5px;top:1708.0px;font-size:31.5px;color:#098bc0;transform:scaleX(1.0498);font-weight:bold;">choice of side and choice of</div>
<div class="t" style="left:1346.3px;top:1756.2px;font-size:31.5px;color:#098bc0;transform:scaleX(1.2077);font-weight:bold;">drink ($6.50)</div>
<div class="t" style="left:902.2px;top:1857.5px;font-size:31.5px;color:#098bc0;transform:scaleX(1.0356);font-weight:bold;">All gratuity is paid to the students of Hope Café.</div>
<div class="t" style="left:1421.6px;top:102.6px;font-size:22.8px;color:#098bc0;transform:scaleX(1.1200);font-weight:bold;letter-spacing:2.15px;">Located at the Hope Pavilion</div>
<div class="t" style="left:1490.8px;top:133.2px;font-size:22.8px;color:#098bc0;transform:scaleX(1.1200);font-weight:bold;letter-spacing:2.35px;">3252 Ginger Creek</div>
<div class="t" style="left:1483.0px;top:164.1px;font-size:22.8px;color:#098bc0;transform:scaleX(1.1200);font-weight:bold;letter-spacing:1.98px;">Springfield, IL 62711</div>
<div class="t" style="left:265.4px;top:19.5px;font-size:65.3px;color:#5f9e3a;transform:scaleX(1.0571);-webkit-text-stroke:1.6px #fff;">Hope</div>
<div class="t" style="left:267.3px;top:85.4px;font-size:58.5px;color:#0c83b6;transform:scaleX(0.9228);font-weight:bold;">Inclusion</div>
<div class="t" style="left:179.2px;top:150.2px;font-size:59.5px;color:#0c83b6;transform:scaleX(0.9750);font-weight:bold;">Cafe &amp;</div>
<div class="t" style="left:369.7px;top:144.4px;font-size:66.5px;color:#f2622a;transform:scaleX(0.9282);-webkit-text-stroke:0.8px #f2622a;">Play!</div>
<div class="t" style="left:158.2px;top:226.7px;font-size:31px;color:#098bc0;transform:scaleX(1.2500);font-weight:bold;letter-spacing:9.17px;">217.883.4420</div>
<div class="t" style="left:595.0px;top:1501.6px;font-size:57.5px;color:#ffffff;transform:scaleX(0.7741);font-weight:bold;">1</div>
<div class="t" style="left:596.9px;top:1702.4px;font-size:57.5px;color:#ffffff;transform:scaleX(1.1640);font-weight:bold;">2</div>
<div class="t" style="left:1257.0px;top:1495.9px;font-size:57.5px;color:#5ea645;transform:scaleX(1.1374);font-weight:bold;">3</div>
<div class="t" style="left:1258.2px;top:1699.3px;font-size:57.5px;color:#098bc0;transform:scaleX(1.1419);font-weight:bold;">4</div>
<div class="t" style="left:478.7px;top:1619.5px;font-size:49px;color:#ffffff;transform-origin:0 0;transform:rotate(90deg) scaleX(0.9302);font-weight:bold;">EXTRAS</div>
</body>
</html>
